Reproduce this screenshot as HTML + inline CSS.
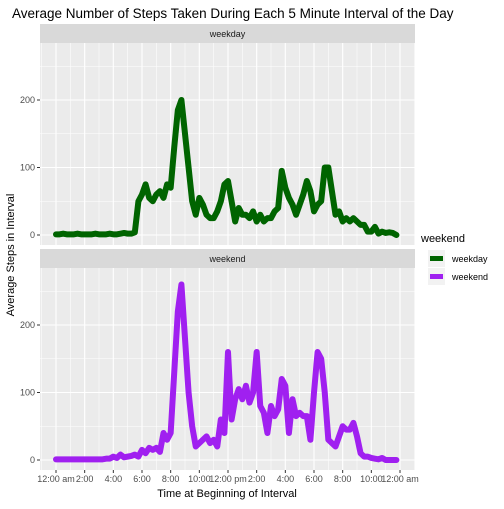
<!DOCTYPE html>
<html><head><meta charset="utf-8"><style>
body{margin:0;background:#fff;font-family:"Liberation Sans",sans-serif}
svg text{font-family:"Liberation Sans",sans-serif}
</style></head><body>
<svg id="c" width="504" height="504" xmlns="http://www.w3.org/2000/svg"></svg>
<script>
const hourTicks=[0,2,4,6,8,10,12,14,16,18,20,22,24];
const tickLabels=["12:00 am","2:00","4:00","6:00","8:00","10:00","12:00 pm","2:00","4:00","6:00","8:00","10:00","12:00 am"];
const yTicks=[0,100,200];
// 15-minute resolution values (hours 0..23.75)
const weekday=[1,1,2,1,1,1,2,1,1,1,1,2,1,1,1,2,1,1,2,3,2,2,4,50,
60,75,55,50,60,65,55,75,70,130,185,200,150,100,50,30,55,45,30,25,25,35,50,75,80,50,20,40,30,30,25,35,20,30,20,25,25,35,40,95,70,55,45,30,45,60,80,65,35,45,50,100,100,65,30,35,20,25,20,25,20,15,15,5,5,12,2,5,3,4,3,0];
const weekend=[1,1,1,1,1,1,1,1,1,1,1,1,1,1,2,2,5,3,8,4,5,6,8,5,15,10,18,15,18,12,40,30,40,130,220,260,180,100,50,20,25,30,35,25,30,20,60,40,160,60,90,105,90,110,85,100,160,80,70,40,80,65,75,120,110,40,90,65,70,65,65,30,100,160,150,100,30,25,20,35,50,45,45,55,35,10,5,5,3,2,1,3,0,0,0,0];
const NS="http://www.w3.org/2000/svg";
const svg=document.getElementById('c');
function el(t,a,p){const e=document.createElementNS(NS,t);for(const k in a)e.setAttribute(k,a[k]);(p||svg).appendChild(e);return e;}
const X0=40,X1=415;
const xs=h=>56+h*(344/24);
function panel(top,zeroY,name,data,color){
  const ys=v=>zeroY-v*0.675;
  const g=el('g',{});
  
  
  const strip=el('rect',{x:X0,y:top,width:X1-X0,height:19,fill:'#d9d9d9'},g);
  
  
  const st=el('text',{x:(X0+X1)/2,y:top+13,'text-anchor':'middle','font-size':9,fill:'#1a1a1a'},g);
  st.textContent=name;
  
  
  const pt=top+19,pb=zeroY+10;
  el('rect',{x:X0,y:pt,width:X1-X0,height:pb-pt,fill:'#ebebeb'},g);
  for(let h=-1;h<=25;h++){const x=xs(h);if(x<X0||x>X1)continue;
    el('line',{x1:x,x2:x,y1:pt,y2:pb,stroke:'#fff','stroke-width':h%2===0?1.1:0.55},g);}
  for(let v=-50;v<=300;v+=50){const y=ys(v);if(y<pt||y>pb)continue;
    el('line',{x1:X0,x2:X1,y1:y,y2:y,stroke:'#fff','stroke-width':v%100===0?1.1:0.55},g);}
  yTicks.forEach(v=>{const t=el('text',{x:35,y:ys(v)+3,'text-anchor':'end','font-size':9,fill:'#4d4d4d'},g);t.textContent=v;
    
    el('line',{x1:37,x2:40,y1:ys(v),y2:ys(v),stroke:'#333','stroke-width':1},g);});
  const pts=data.map((v,i)=>xs(i*0.25)+','+ys(v)).join(' ');
  const l=el('polyline',{points:pts,fill:'none',stroke:color,'stroke-width':6,'stroke-linejoin':'round','stroke-linecap':'round'},g);
  
  
}
panel(24,235,'weekday',weekday,'#006400');
panel(249,460,'weekend',weekend,'#a020f0');
hourTicks.forEach((h,i)=>{const x=xs(h);
  el('line',{x1:x,x2:x,y1:470,y2:473,stroke:'#333'});
  const t=el('text',{x:x,y:482,'text-anchor':'middle','font-size':9,fill:'#4d4d4d'});t.textContent=tickLabels[i];
  });
const xt=el('text',{x:227,y:497,'text-anchor':'middle','font-size':11,fill:'#000'});xt.textContent='Time at Beginning of Interval';

const yt=el('text',{x:14,y:255,'text-anchor':'middle','font-size':11,fill:'#000',transform:'rotate(-90 14 255)'});yt.textContent='Average Steps in Interval';

const tt=el('text',{x:12,y:18,'font-size':13.5,fill:'#000'});tt.textContent='Average Number of Steps Taken During Each 5 Minute Interval of the Day';

const lt=el('text',{x:421,y:242,'font-size':11,fill:'#000'});lt.textContent='weekend';

[['weekday','#006400',250],['weekend','#a020f0',268]].forEach(([n,c,y])=>{
  el('rect',{x:428,y:y,width:17,height:17,fill:'#f2f2f2'});
  el('line',{x1:430,x2:443,y1:y+8.5,y2:y+8.5,stroke:c,'stroke-width':5});
  const t=el('text',{x:452,y:y+12,'font-size':9,fill:'#000'});t.textContent=n;
  });
</script>
</body></html>
